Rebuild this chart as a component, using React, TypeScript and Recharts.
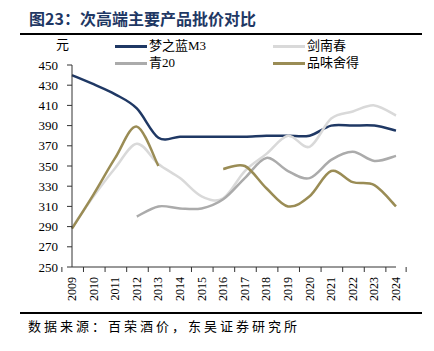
import { LineChart, Line, XAxis, YAxis } from "recharts";

// 연도 (카테고리)
const YEARS = [
  "2009", "2010", "2011", "2012", "2013", "2014", "2015", "2016",
  "2017", "2018", "2019", "2020", "2021", "2022", "2023", "2024",
];

// 시리즈 값 (元)
const MENGZHILAN = [440, 431, 421, 407, 378, 379, 379, 379, 379, 380, 380, 380, 390, 390, 390, 385];
const JIANNANCHUN = [289, 320, 348, 372, 352, 338, 320, 318, 345, 362, 380, 369, 397, 404, 410, 400];
const QING20 = [null, null, null, 300, 310, 308, 308, 317, 338, 358, 345, 338, 356, 364, 355, 360];
const PINWEISHEDE = [288, 322, 358, 389, 350, null, null, 347, 350, 328, 310, 320, 345, 334, 331, 310];

const Y_TICKS = [250, 270, 290, 310, 330, 350, 370, 390, 410, 430, 450];

const SERIES = [
  { key: "mzl", name: "梦之蓝M3", color: "#1f3864", values: MENGZHILAN },
  { key: "jnc", name: "剑南春", color: "#d9d9d9", values: JIANNANCHUN },
  { key: "q20", name: "青20", color: "#ababab", values: QING20 },
  { key: "pwsd", name: "品味舍得", color: "#9a8c55", values: PINWEISHEDE },
];

const data = YEARS.map((year, i) => {
  const row: Record<string, string | number | null> = { year };
  SERIES.forEach((s) => {
    row[s.key] = s.values[i];
  });
  return row;
});

const FONT = "'Liberation Serif', 'Noto Sans CJK SC', serif";
const PLOT_W = 324;
const BAND = PLOT_W / YEARS.length;
const TICK_SIZE = 5;
const TICK_MARGIN = 5;

// 엑셀 스타일 부드러운 곡선 (Catmull-Rom)
// eslint-disable-next-line @typescript-eslint/no-explicit-any
const smoothCurve = (context: any) => {
  let pts: number[][] = [];
  return {
    areaStart() {},
    areaEnd() {},
    lineStart() {
      pts = [];
    },
    lineEnd() {
      const n = pts.length;
      if (!n) return;
      context.moveTo(pts[0][0], pts[0][1]);
      for (let i = 0; i < n - 1; i++) {
        const p0 = pts[i - 1] || pts[i];
        const p1 = pts[i];
        const p2 = pts[i + 1];
        const p3 = pts[i + 2] || pts[i + 1];
        context.bezierCurveTo(
          p1[0] + (p2[0] - p0[0]) / 6,
          p1[1] + (p2[1] - p0[1]) / 6,
          p2[0] - (p3[0] - p1[0]) / 6,
          p2[1] - (p3[1] - p1[1]) / 6,
          p2[0],
          p2[1]
        );
      }
    },
    point(x: number, y: number) {
      pts.push([+x, +y]);
    },
  };
};

// X축 라벨 + 구간 경계 눈금
// eslint-disable-next-line @typescript-eslint/no-explicit-any
const YearTick = (props: any) => {
  const { x, y, payload, index } = props;
  const axisY = y - TICK_SIZE - TICK_MARGIN;
  const last = index === YEARS.length - 1;
  return (
    <g>
      <line x1={x - BAND / 2} x2={x - BAND / 2} y1={axisY} y2={axisY + TICK_SIZE} stroke="#333" />
      {last && (
        <line x1={x + BAND / 2} x2={x + BAND / 2} y1={axisY} y2={axisY + TICK_SIZE} stroke="#333" />
      )}
      <text
        x={x}
        y={y}
        transform={`rotate(-90, ${x}, ${y})`}
        textAnchor="end"
        dominantBaseline="central"
        fontSize={12}
        fill="#000"
        fontFamily={FONT}>
        {payload.value}
      </text>
    </g>
  );
};

const legendPos = [
  { left: 115, top: 38 },
  { left: 273, top: 38 },
  { left: 115, top: 55 },
  { left: 273, top: 55 },
];

export default function App() {
  return (
    <div
      style={{
        position: "absolute",
        left: 0,
        top: 0,
        width: 434,
        height: 351,
        background: "#fff",
        fontFamily: FONT,
      }}>
      {/* 제목 */}
      <div
        style={{
          position: "absolute",
          left: 29,
          top: 8,
          fontSize: 16,
          fontWeight: "bold",
          color: "#1f3864",
          fontFamily: "'Noto Sans CJK SC', sans-serif",
          lineHeight: "20px",
        }}>
        图23：次高端主要产品批价对比
      </div>
      <div style={{ position: "absolute", left: 20, top: 33, width: 402, height: 2, background: "#000" }} />

      <LineChart
        width={434}
        height={351}
        data={data}
        margin={{ top: 65, right: 38, left: 32, bottom: 44 }}>
        <XAxis
          dataKey="year"
          type="category"
          interval={0}
          height={40}
          tickLine={false}
          tickSize={TICK_SIZE}
          tickMargin={TICK_MARGIN}
          axisLine={{ stroke: "#333" }}
          tick={<YearTick />}
        />
        <YAxis
          domain={[250, 450]}
          ticks={Y_TICKS}
          interval={0}
          width={40}
          tickSize={5}
          tickMargin={9}
          axisLine={{ stroke: "#333" }}
          tickLine={{ stroke: "#333" }}
          tick={{ fontSize: 13, fill: "#000", fontFamily: FONT }}
        />
        {SERIES.map((s) => (
          <Line
            key={s.key}
            dataKey={s.key}
            name={s.name}
            type={smoothCurve}
            stroke={s.color}
            strokeWidth={2.5}
            dot={false}
            connectNulls={false}
            isAnimationActive={false}
          />
        ))}
      </LineChart>

      {/* 단위 */}
      <div style={{ position: "absolute", left: 56, top: 37, fontSize: 13, lineHeight: "16px" }}>元</div>

      {/* 범례 */}
      {SERIES.map((s, i) => (
        <div
          key={s.key}
          style={{
            position: "absolute",
            left: legendPos[i].left,
            top: legendPos[i].top,
            display: "flex",
            alignItems: "center",
            height: 16,
            fontSize: 13,
          }}>
          <div style={{ width: 32, height: 3, background: s.color, marginRight: 2 }} />
          <span style={{ lineHeight: "16px" }}>{s.name}</span>
        </div>
      ))}

      <div style={{ position: "absolute", left: 20, top: 312, width: 402, height: 2, background: "#000" }} />
      <div
        style={{
          position: "absolute",
          left: 28,
          top: 318,
          fontSize: 13,
          letterSpacing: 3,
          lineHeight: "16px",
          fontFamily: "'Noto Sans CJK SC', sans-serif",
        }}>
        数据来源：百荣酒价，东吴证券研究所
      </div>
    </div>
  );
}
